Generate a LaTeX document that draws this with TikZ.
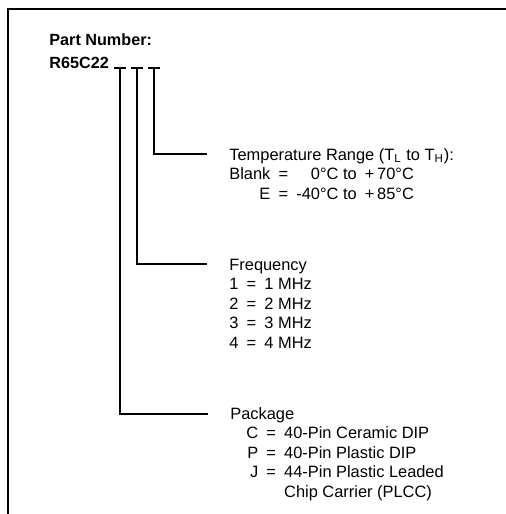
\documentclass[tikz,border=0pt]{standalone}
\usepackage{fontspec}
\setmainfont{Liberation Sans}
\usetikzlibrary{positioning}
\begin{document}
\begin{tikzpicture}[x=0.5pt,y=-0.5pt,
	every node/.style={font=\fontsize{8.2}{9.75}\selectfont, inner sep=0pt, anchor=base west},
	title/.style={font=\fontsize{8.1}{9.75}\selectfont\bfseries},
	lead/.style={line width=0.6pt}]
	\useasboundingbox (0,0) rectangle (506,514);
	\draw[line width=0.8pt] (506,9) -- (8,9) -- (8,514);
	
	\node[title] (pn) at (49,46) {Part Number:};
	\node[title] (part) at (49,68) {R65C22};
	
	\coordinate (pkg) at (120,68);
	\coordinate (freq) at (137,68);
	\coordinate (temp) at (154,68);
	\draw[lead] ([xshift=-3]pkg) -- ([xshift=3]pkg);
	\draw[lead] ([xshift=-3]freq) -- ([xshift=3]freq);
	\draw[lead] ([xshift=-3]temp) -- ([xshift=3]temp);
	
	\node (tempdesc) at (229,160) {\begin{tabular}[t]{@{}r@{\enspace}c@{\enspace}r@{}}
		\multicolumn{3}{@{}l@{}}{\rlap{Temperature Range (T\textsubscript{L} to T\textsubscript{H}):}}\\
		Blank & = & \kern1pt0°C to\enspace+\,70°C\\
		E & = & -40°C to\enspace+\,85°C
	\end{tabular}};
	\coordinate (tempend) at (207,154);
	\draw[lead] (temp) |- (tempend);
	
	\node (freqdesc) at (229,270) {\begin{tabular}[t]{@{}l@{\enspace}c@{\enspace}l@{}}
		\multicolumn{3}{@{}l@{}}{Frequency}\\
		1 & = & 1 MHz\\
		2 & = & 2 MHz\\
		3 & = & 3 MHz\\
		4 & = & 4 MHz
	\end{tabular}};
	\coordinate (freqend) at (207,264);
	\draw[lead] (freq) |- (freqend);
	
	\node (pkgdesc) at (230,419) {\begin{tabular}[t]{@{\hspace{8pt}}r@{\enspace}c@{\enspace}l@{}}
		\multicolumn{3}{@{}l@{}}{Package}\\
		C & = & 40-Pin Ceramic DIP\\
		P & = & 40-Pin Plastic DIP\\
		J & = & 44-Pin Plastic Leaded\\
		& & Chip Carrier (PLCC)
	\end{tabular}};
	\coordinate (pkgend) at (208,414);
	\draw[lead] (pkg) |- (pkgend);
\end{tikzpicture}
\end{document}
